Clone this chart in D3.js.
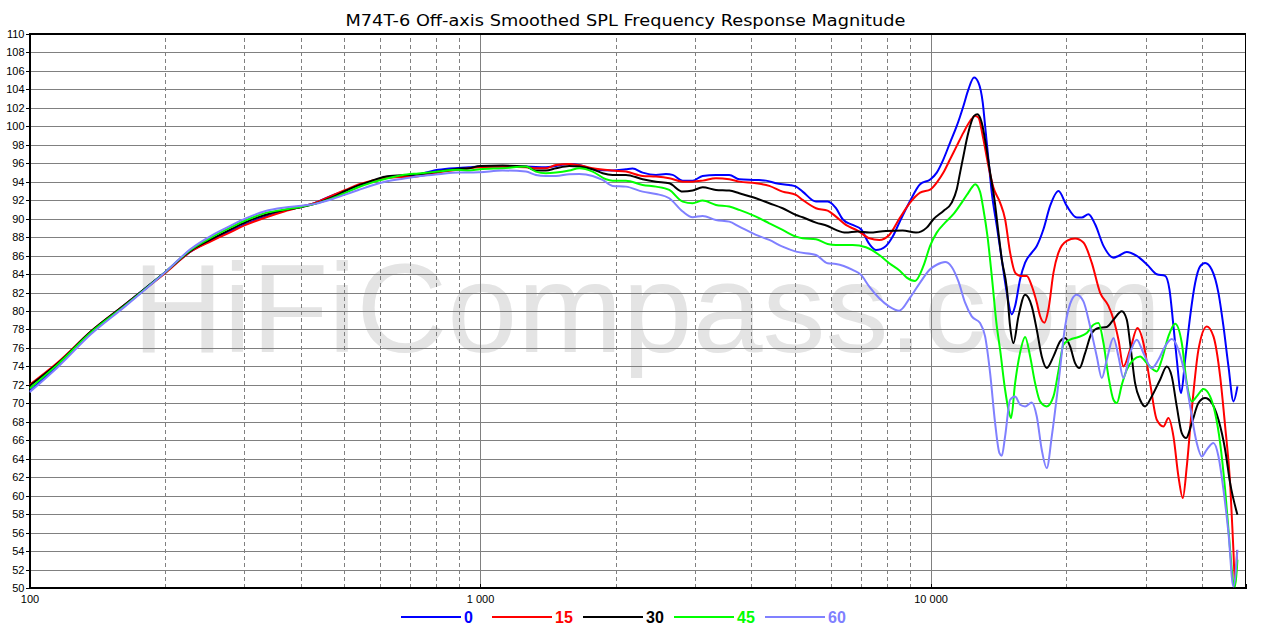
<!DOCTYPE html>
<html>
<head>
<meta charset="utf-8">
<script src="https://cdn.jsdelivr.net/npm/d3@7"></script>
<style>
  html, body { margin: 0; padding: 0; background: #fff; }
  svg { display: block; }
  .axis text { font-family: "Liberation Sans", Arial, sans-serif; font-size: 11px; fill: #000; }
  .axis path, .axis line { stroke: #000; shape-rendering: crispEdges; }
</style>
</head>
<body>
<svg id="chart" width="1276" height="635"></svg>
<script>
// ---------------- DATA ----------------
const title = "M74T-6 Off-axis Smoothed SPL Frequency Response Magnitude";
const watermark = "HiFiCompass.com";
const seriesNames = ["0", "15", "30", "45", "60"];
const seriesColors = ["#0000ff", "#ff0000", "#000000", "#00ff00", "#8080ff"];

const yTicks = [50,52,54,56,58,60,62,64,66,68,70,72,74,76,78,80,82,84,86,88,90,92,94,96,98,100,102,104,106,108,110];
const xLabelTicks = [100, 1000, 10000];
const xLabels = ["100", "1 000", "10 000"];
const xMinorGrid = [200,300,400,500,600,700,800,900,2000,3000,4000,5000,6000,7000,8000,9000,20000,30000,40000];
const xMajorGrid = [1000, 10000];

// Response curves: [frequency Hz, SPL dB]
const s0 = [
  [100,71.3],[116,74.2],[137,77.7],[163,80.7],[200,84.2],[229,86.5],[254,87.7],[281,88.7],[301,89.4],[333,90.2],[369,90.9],[402,91.3],[430,91.7],[469,92.5],[502,93.0],[537,93.6],[575,94.0],[615,94.4],[670,94.6],[730,94.8],[808,95.3],[895,95.5],
  [946,95.57],[1000,95.64],[1122,95.64],[1264,95.64],[1400,95.57],[1474,95.71],[1578,95.93],[1661,95.82],[1778,95.35],[1969,95.21],[2108,95.35],[2181,95.42],[2296,94.99],[2458,94.74],[2586,94.84],[2676,94.74],[2817,94.12],[2964,94.12],[3119,94.63],[3339,94.74],[3574,94.74],[3762,94.27],[4097,94.19],[4311,94.12],[4537,93.83],[4857,93.65],[5027,93.47],[5200,92.93],[5567,91.85],[5908,91.85],[6166,91.13],[6380,89.94],[6714,89.32],[7007,88.85],[7311,87.26],[7568,86.61],[7962,87.05],[8240,88.06],
  [8555,89.75],[9005,91.92],[9478,93.73],[10000,94.27],[10320,94.99],[10678,96.43],[11048,98.24],[11432,100.04],[11828,102.21],[12134,104.01],[12490,105.28],[12770,104.74],[13055,102.57],[13213,100.04],[13440,96.43],[13671,92.82],[14025,89.21],[14388,85.6],[14761,81.99],[15143,79.64],[15403,80.55],[15802,83.44],[16211,85.24],[16773,86.32],[17207,87.05],[17804,88.85],[18421,91.38],[19224,93.0],[20060,91.38],[21111,90.12],[21657,90.12],[22408,90.48],[23185,89.39],[24194,87.05],[25462,85.78],[26122,85.96],[27258,86.4],[28687,85.96],[30190,85.06],[31772,83.98],[33155,83.8],[33896,82.35],[34596,78.38],[35190,74.77],[35977,71.11],[36730,74.72],[37680,79.42],[38654,83.03],[39653,84.83],[40678,85.19],[42088,84.47],[43551,81.94],[44676,78.33],[45832,74.0],[47018,70.21],[47981,71.83]
];
const s15 = [
  [100,72.0],[116,74.5],[137,77.8],[163,80.7],[200,84.1],[229,86.5],[254,87.6],[281,88.6],[301,89.3],[333,90.1],[369,90.8],[402,91.3],[430,91.7],[469,92.5],[502,93.1],[537,93.7],[575,94.1],[615,94.4],[670,94.5],[730,94.6],[808,95.0],[895,95.3],
  [946,95.46],[1000,95.57],[1122,95.64],[1264,95.57],[1330,95.46],[1400,95.46],[1474,95.82],[1578,95.93],[1661,95.78],[1778,95.46],[1969,95.21],[2108,95.1],[2296,94.63],[2458,94.56],[2630,94.38],[2817,94.01],[2964,94.01],[3119,94.12],[3339,94.38],[3574,94.27],[3762,94.01],[4097,93.83],[4385,93.55],[4694,92.93],[5027,92.57],[5200,92.03],[5567,91.13],[5908,90.87],[6166,90.22],[6486,89.32],[6887,88.71],[7311,87.88],[7692,87.7],[8097,88.24],
  [8555,90.12],[9005,91.74],[9478,92.82],[10000,93.18],[10320,93.91],[10678,94.99],[11048,96.43],[11432,97.88],[11828,99.32],[12237,100.58],[12553,101.13],[12770,100.95],[13055,98.96],[13440,95.71],[13787,93.36],[14265,91.74],[14635,89.94],[15015,86.32],[15403,84.16],[15802,83.8],[16349,83.8],[16773,82.71],[17207,80.91],[17498,79.46],[17892,78.74],[18264,80.19],[18740,84.16],[19224,86.32],[20060,87.59],[20930,87.84],[21838,87.41],[22784,85.24],[23782,81.99],[24817,80.55],[25462,79.1],[26122,76.89],[26792,74.0],[27721,75.81],[28780,78.15],[29673,76.53],[30707,72.19],[31772,68.22],[32867,67.5],[33718,68.4],[34596,66.42],[35489,62.09],[36288,59.74],[37040,63.17],[38000,69.31],[39314,75.81],[41030,78.33],[42447,77.25],[43922,72.92],[45060,67.5],[46222,61.36],[47000,54.14],[47424,50.3],[47900,54.1]
];
const s30 = [
  [100,71.9],[116,74.4],[137,77.8],[163,80.7],[200,84.2],[229,86.6],[254,87.8],[281,88.9],[301,89.6],[333,90.4],[369,90.95],[402,91.25],[430,91.6],[469,92.3],[502,93.0],[537,93.6],[575,94.1],[615,94.55],[670,94.7],[730,94.8],[808,95.1],[895,95.4],
  [946,95.46],[1000,95.71],[1122,95.75],[1264,95.64],[1330,95.21],[1400,95.21],[1474,95.46],[1578,95.71],[1661,95.64],[1778,95.35],[1871,94.92],[1969,94.74],[2108,94.74],[2296,94.27],[2458,94.01],[2630,93.83],[2817,92.93],[2964,93.04],[3119,93.4],[3339,93.11],[3574,93.04],[3762,92.75],[4097,92.21],[4385,91.67],[4694,91.13],[5027,90.4],[5200,90.15],[5567,89.57],[5908,89.21],[6166,88.78],[6486,88.49],[6887,88.6],[7311,88.49],[7962,88.67],[8670,88.71],
  [9281,88.49],[9806,89.03],[10146,89.94],[10678,90.84],[11142,91.74],[11432,93.18],[11627,94.99],[11828,96.79],[12032,98.6],[12237,100.04],[12490,101.13],[12703,101.31],[12989,100.4],[13280,97.88],[13556,94.99],[13859,92.1],[14145,88.49],[14388,85.6],[14761,82.5],[15015,78.33],[15269,76.53],[15668,79.42],[16211,81.76],[16773,80.5],[17207,77.97],[17650,75.08],[18108,73.82],[18740,75.08],[19384,76.71],[19884,77.07],[20400,76.17],[20930,74.36],[21399,73.82],[22026,75.44],[22784,77.61],[23580,78.15],[24606,78.26],[25462,79.05],[26570,79.96],[27258,79.05],[27721,76.53],[28437,72.19],[29174,70.39],[29929,69.67],[30965,70.75],[32311,72.56],[33436,74.0],[34300,72.92],[35190,69.67],[36103,66.78],[36910,66.24],[38000,67.86],[39314,70.03],[40678,70.57],[42088,70.03],[43551,68.22],[45060,64.97],[46222,61.36],[47981,57.93]
];
const s45 = [
  [100,71.6],[116,74.3],[137,77.7],[163,80.6],[200,84.2],[229,86.7],[254,88.0],[281,89.1],[301,89.8],[333,90.6],[369,91.0],[402,91.3],[430,91.6],[469,92.2],[502,92.8],[537,93.4],[575,93.9],[615,94.3],[670,94.7],[730,94.9],[808,95.1],[895,95.3],
  [946,95.21],[1000,95.35],[1122,95.46],[1264,95.64],[1330,95.1],[1400,94.92],[1474,94.99],[1578,95.21],[1661,95.46],[1778,95.1],[1903,94.27],[1969,94.12],[2108,94.12],[2296,93.65],[2458,93.47],[2630,93.11],[2817,91.85],[2964,91.67],[3119,91.96],[3339,91.49],[3574,91.31],[3762,90.95],[4097,90.22],[4385,89.5],[4694,88.78],[5027,88.06],[5200,87.88],[5567,87.77],[5908,87.26],[6166,87.16],[6714,87.16],[7186,86.9],[7692,86.07],[8097,85.17],
  [8555,84.34],[8852,83.62],[9239,83.26],[9640,84.88],[9975,87.05],[10320,88.49],[10770,89.57],[11237,90.48],[11726,91.74],[12134,92.82],[12341,93.36],[12553,93.73],[12878,92.9],[13099,91.02],[13372,88.13],[13671,83.8],[14025,78.38],[14265,75.81],[14635,71.47],[14888,69.31],[15090,68.4],[15403,72.19],[15802,75.5],[16211,77.18],[16632,75.08],[17061,72.19],[17498,70.21],[18108,69.67],[18740,70.75],[19224,73.5],[19720,76.35],[20400,76.89],[21290,77.18],[22219,77.61],[22988,78.51],[23580,78.69],[24194,76.53],[24817,72.92],[25462,70.39],[25901,70.03],[26570,72.0],[27258,73.64],[28195,74.72],[29174,75.08],[30190,74.36],[31230,73.64],[31770,73.46],[32590,74.72],[33718,77.25],[34893,78.62],[36103,76.53],[37040,72.19],[38000,70.21],[38977,70.75],[40320,71.55],[41720,70.75],[42810,68.95],[43922,65.7],[45060,60.64],[46222,54.14],[46990,50.53],[47424,50.17],[47981,53.06]
];
const s60 = [
  [100,71.2],[116,74.0],[137,77.5],[163,80.5],[200,84.2],[229,86.8],[254,88.2],[281,89.3],[301,90.0],[333,90.8],[369,91.2],[402,91.4],[430,91.6],[469,92.1],[502,92.6],[537,93.1],[575,93.6],[615,94.0],[670,94.3],[730,94.6],[808,94.8],[895,95.0],
  [946,94.99],[1000,95.03],[1122,95.21],[1264,95.1],[1330,94.74],[1400,94.63],[1474,94.63],[1578,94.81],[1661,94.84],[1778,94.63],[1871,94.19],[1969,93.55],[2108,93.47],[2296,92.93],[2458,92.68],[2630,92.21],[2817,90.77],[2964,90.15],[3119,90.3],[3339,89.86],[3574,89.68],[3762,89.14],[4097,88.24],[4385,87.7],[4694,86.97],[5027,86.43],[5567,86.07],[5908,85.17],[6166,85.1],[6714,84.45],[7007,83.91],[7311,82.64],[7692,81.38],[8097,80.48],[8522,80.04],
  [9005,81.45],[9478,83.08],[9975,84.52],[10320,85.01],[10770,85.3],[11142,84.77],[11530,83.2],[11929,80.9],[12341,79.42],[12878,78.69],[13213,77.25],[13556,73.28],[13907,67.86],[14217,64.61],[14388,64.32],[14635,66.42],[15015,70.39],[15403,70.75],[15802,69.85],[16211,69.67],[16773,70.1],[17207,68.58],[17650,64.97],[18108,62.99],[18577,66.42],[19224,72.19],[19887,78.33],[20576,81.22],[21111,81.76],[21838,81.04],[22598,78.33],[23382,75.08],[23988,72.74],[24606,74.72],[25462,77.07],[26122,75.08],[26792,72.74],[27721,75.44],[28687,76.89],[29673,75.44],[30965,73.82],[32038,74.72],[33155,76.17],[34300,76.96],[35490,75.81],[36730,72.92],[37680,69.67],[38977,65.7],[39986,64.25],[40995,64.97],[42447,65.7],[43551,64.25],[44676,60.64],[45832,55.95],[46990,50.17],[47981,54.14]
];
const seriesData = [s0, s15, s30, s45, s60];

// ---------------- DRAW ----------------
const svg = d3.select("#chart");
const plotL = 29.5, plotR = 1245.5, plotT = 34, plotB = 588;
const x = d3.scaleLog().domain([100, 50000]).range([plotL, plotR]);
const y = d3.scaleLinear().domain([50, 110]).range([plotB, plotT]);

svg.append("rect").attr("width", 1276).attr("height", 635).attr("fill", "#fff");

// title
svg.append("text")
  .attr("x", 625.5).attr("y", 26)
  .attr("text-anchor", "middle")
  .attr("textLength", 560)
  .attr("lengthAdjust", "spacingAndGlyphs")
  .style("font-family", "'DejaVu Sans', sans-serif")
  .style("font-size", "16.5px")
  .text(title);

// clip
svg.append("clipPath").attr("id", "plotclip")
  .append("rect").attr("x", plotL).attr("y", plotT).attr("width", plotR - plotL).attr("height", plotB - plotT);

// watermark
svg.append("text")
  .attr("x", 647).attr("y", 352)
  .attr("text-anchor", "middle")
  .style("font-family", "'Liberation Sans', Arial, sans-serif")
  .style("font-size", "126px")
  .attr("fill", "#e4e4e4")
  .text(watermark);

// horizontal grid
svg.append("g")
  .attr("transform", `translate(${plotL},0)`)
  .call(d3.axisLeft(y).tickValues(yTicks.filter(v => v > 50 && v < 110)).tickSize(-(plotR - plotL)).tickFormat(""))
  .call(g => g.select(".domain").remove())
  .call(g => g.selectAll("line").attr("stroke", "#808080").attr("shape-rendering", "crispEdges"));

// vertical minor grid (dashed)
svg.append("g")
  .attr("transform", `translate(0,${plotB})`)
  .call(d3.axisBottom(x).tickValues(xMinorGrid).tickSize(-(plotB - plotT)).tickFormat(""))
  .call(g => g.select(".domain").remove())
  .call(g => g.selectAll("line").attr("stroke", "#808080").attr("stroke-dasharray", "4,3").attr("shape-rendering", "crispEdges"));

// vertical major grid (solid)
svg.append("g")
  .attr("transform", `translate(0,${plotB})`)
  .call(d3.axisBottom(x).tickValues(xMajorGrid).tickSize(-(plotB - plotT)).tickFormat(""))
  .call(g => g.select(".domain").remove())
  .call(g => g.selectAll("line").attr("stroke", "#808080").attr("shape-rendering", "crispEdges"));

// frame
svg.append("rect")
  .attr("x", plotL).attr("y", plotT).attr("width", plotR - plotL).attr("height", plotB - plotT)
  .attr("fill", "none").attr("stroke", "#000").attr("stroke-width", 1.2).attr("shape-rendering", "crispEdges");

// y axis
svg.append("g").attr("class", "axis")
  .attr("transform", `translate(${plotL},0)`)
  .call(d3.axisLeft(y).tickValues(yTicks).tickSize(4).tickPadding(1).tickFormat(d3.format("d")));

// x axis
svg.append("g").attr("class", "axis")
  .attr("transform", `translate(0,${plotB})`)
  .call(d3.axisBottom(x).tickValues(xLabelTicks).tickSize(-4).tickPadding(7).tickFormat((d, i) => xLabels[i]));

// curves
const line = d3.line()
  .x(d => x(d[0]))
  .y(d => y(d[1]))
  .curve(d3.curveMonotoneX);

const curves = svg.append("g").attr("clip-path", "url(#plotclip)");
seriesData.forEach((data, i) => {
  curves.append("path")
    .datum(data)
    .attr("fill", "none")
    .attr("stroke", seriesColors[i])
    .attr("stroke-width", 2)
    .attr("stroke-linejoin", "round")
    .attr("d", line);
});

// legend
const legendX = [401, 492, 583, 674, 765];
const legend = svg.append("g");
seriesNames.forEach((name, i) => {
  legend.append("line")
    .attr("x1", legendX[i]).attr("x2", legendX[i] + 60)
    .attr("y1", 617).attr("y2", 617)
    .attr("stroke", seriesColors[i]).attr("stroke-width", 2);
  legend.append("text")
    .attr("x", legendX[i] + 63).attr("y", 623)
    .style("font-family", "'Liberation Sans', Arial, sans-serif")
    .style("font-size", "16px").style("font-weight", "bold")
    .attr("fill", seriesColors[i])
    .text(name);
});
</script>
</body>
</html>
